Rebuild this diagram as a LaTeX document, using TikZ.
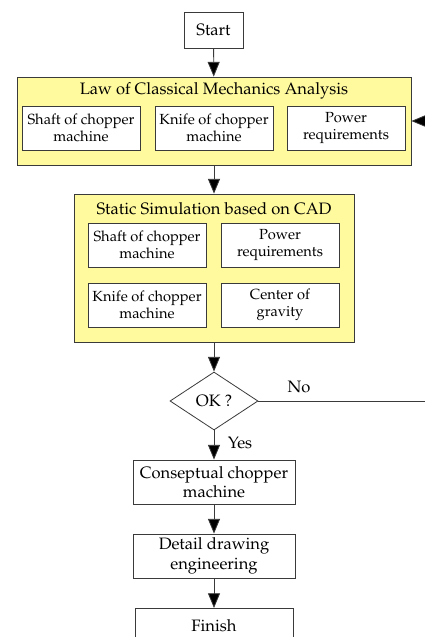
\documentclass[tikz,border=0pt]{standalone}
\usepackage[T1]{fontenc}
\usepackage{mathpazo}
\usepackage{tikz}
\usetikzlibrary{arrows.meta, positioning, shapes.geometric}
\definecolor{chopyellow}{HTML}{FFFA9E}
\definecolor{chopgrey}{HTML}{3A3A3A}
\tikzset{
  flowbox/.style={draw=chopgrey, fill=white, line width=0.6pt, align=center,
    inner sep=1pt, font=\fontsize{12.4}{14.5}\selectfont},
  subbox/.style={flowbox, minimum width=88.5pt, minimum height=33pt,
    font=\fontsize{11}{13}\selectfont},
  mainbox/.style={flowbox, minimum width=121.5pt, minimum height=33pt},
  groupbox/.style={draw=chopgrey, fill=chopyellow, line width=0.6pt, inner sep=0pt},
  grouptitle/.style={font=\fontsize{12.4}{14.5}\selectfont, inner sep=0pt},
  flowarrow/.style={-{Triangle[length=11pt,width=9pt,fill=black]}, line width=0.6pt, draw=chopgrey},
  flowlabel/.style={font=\fontsize{12.4}{14.5}\selectfont, inner sep=0pt},
}

\begin{document}
\begin{tikzpicture}[x=0.75pt, y=-0.75pt]
  \fill[white] (0,0) rectangle (425,637);
  \useasboundingbox (0,0) rectangle (425,637);
  \clip (0,0) rectangle (425,637);

  % start
  \node[flowbox, minimum width=44.25pt, minimum height=27pt] (start) at (213.5,30) {Start};

  % classical mechanics block
  \node[groupbox, minimum width=295.5pt, minimum height=66pt] (law) at (214,121) {};
  \node[grouptitle] (lawtitle) at (214,91) {Law of Classical Mechanics Analysis};
  \node[subbox] (lawshaft) at (81,128) {Shaft of chopper\\machine};
  \node[subbox] (lawknife) at (214,128) {Knife of chopper\\machine};
  \node[subbox] (lawpower) at (346,128) {Power\\requirements};

  % static simulation block
  \node[groupbox, minimum width=210pt, minimum height=111pt] (sim) at (214,268) {};
  \node[grouptitle] (simtitle) at (214,209) {Static Simulation based on CAD};
  \node[subbox] (simshaft) at (147,245) {Shaft of chopper\\machine};
  \node[subbox] (simpower) at (280,245) {Power\\requirements};
  \node[subbox] (simknife) at (147,305) {Knife of chopper\\machine};
  \node[subbox] (simgravity) at (280,305) {Center of\\gravity};

  % decision and output
  \node[draw=chopgrey, fill=white, line width=0.6pt, diamond, aspect=1.52,
    minimum width=66pt, minimum height=43.5pt, inner sep=0pt,
    font=\fontsize{12.4}{14.5}\selectfont] (ok) at (214,401) {OK ?};
  \node[mainbox] (concept) at (214,482) {Conseptual chopper\\machine};
  \node[mainbox] (detail) at (214,556) {Detail drawing\\engineering};
  \node[flowbox, minimum width=118.5pt, minimum height=33pt, text depth=7.5pt,
    anchor=north] (finish) at (214,608) {Finish};

  \node[flowlabel] (nolabel) at (299,387) {No};
  \node[flowlabel] (yeslabel) at (240,443) {Yes};
  \coordinate (loopcorner) at (445,401);

  \draw[flowarrow] (start) -- (law);
  \draw[flowarrow] (law) -- (sim);
  \draw[flowarrow] (sim) -- (ok);
  \draw[flowarrow] (ok) -- (concept);
  \draw[flowarrow] (concept) -- (detail);
  \draw[flowarrow] (detail) -- (finish);
  \draw[flowarrow] (ok.east) -- (loopcorner) |- (law.east);
\end{tikzpicture}
\end{document}
